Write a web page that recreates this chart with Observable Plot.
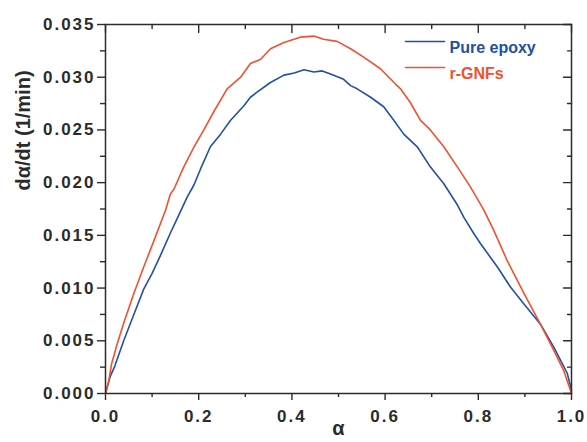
<!DOCTYPE html>
<html>
<head>
<meta charset="utf-8">
<script src="https://cdn.jsdelivr.net/npm/d3@7"></script>
<script src="https://cdn.jsdelivr.net/npm/@observablehq/plot@0.6"></script>
<style>
  html, body { margin: 0; padding: 0; background: #fff; }
</style>
</head>
<body>
<div id="chart"></div>
<script>
// ---- data ----
const seriesNames = ["Pure epoxy", "r-GNFs"];
const seriesColors = ["#2150a6", "#f2502e"];

const epoxyAlpha = [0, 0.01, 0.02, 0.039, 0.06, 0.082, 0.10, 0.118, 0.139, 0.155, 0.175, 0.190, 0.204, 0.225, 0.247, 0.268, 0.297, 0.311, 0.326, 0.354, 0.383, 0.405, 0.426, 0.447, 0.465, 0.483, 0.511, 0.526, 0.540, 0.569, 0.597, 0.619, 0.640, 0.669, 0.697, 0.726, 0.755, 0.769, 0.790, 0.805, 0.841, 0.869, 0.898, 0.933, 0.962, 0.991, 1.0];
const epoxyRate  = [0, 0.0016, 0.0026, 0.0050, 0.0074, 0.0099, 0.0114, 0.0131, 0.0152, 0.0167, 0.0186, 0.0198, 0.0213, 0.0234, 0.0246, 0.0259, 0.0273, 0.0281, 0.0286, 0.0295, 0.0302, 0.0304, 0.0307, 0.0305, 0.0306, 0.0303, 0.0298, 0.0292, 0.0289, 0.0281, 0.0272, 0.0259, 0.0246, 0.0234, 0.0215, 0.0199, 0.0179, 0.0167, 0.0152, 0.0142, 0.0120, 0.0101, 0.0085, 0.0066, 0.0044, 0.0019, 0.0003];

const gnfAlpha = [0, 0.007, 0.013, 0.025, 0.040, 0.061, 0.082, 0.104, 0.129, 0.139, 0.147, 0.168, 0.190, 0.211, 0.232, 0.261, 0.290, 0.311, 0.333, 0.354, 0.383, 0.418, 0.447, 0.468, 0.497, 0.526, 0.554, 0.590, 0.619, 0.633, 0.654, 0.676, 0.697, 0.726, 0.755, 0.783, 0.812, 0.833, 0.862, 0.898, 0.933, 0.962, 0.983, 1.0];
const gnfRate  = [0, 0.0012, 0.0028, 0.0047, 0.0068, 0.0095, 0.0120, 0.0145, 0.0174, 0.0189, 0.0194, 0.0215, 0.0234, 0.0250, 0.0267, 0.0289, 0.0300, 0.0313, 0.0317, 0.0327, 0.0333, 0.0338, 0.0339, 0.0336, 0.0334, 0.0327, 0.0319, 0.0308, 0.0295, 0.0289, 0.0276, 0.0259, 0.0250, 0.0234, 0.0215, 0.0196, 0.0174, 0.0155, 0.0126, 0.0095, 0.0066, 0.0041, 0.0022, 0];

const xMajor = [0, 0.2, 0.4, 0.6, 0.8, 1.0];
const xMinor = [0.1, 0.3, 0.5, 0.7, 0.9];
const yMajor = [0, 0.005, 0.010, 0.015, 0.020, 0.025, 0.030, 0.035];
const yMinor = [0.0025, 0.0075, 0.0125, 0.0175, 0.0225, 0.0275, 0.0325];

const xLabel = "α";
const yLabel = "dα/dt (1/min)";

// ---- build table ----
const rows = [
  ...epoxyAlpha.map((a, i) => ({a, v: epoxyRate[i], s: seriesNames[0]})),
  ...gnfAlpha.map((a, i) => ({a, v: gnfRate[i], s: seriesNames[1]}))
];

const ink = "#2b2b2b";
const lineShape = {draw(context, l) { context.moveTo(0, 0); context.lineTo(0, -l); }};

const plot = Plot.plot({
  width: 587,
  height: 442,
  marginLeft: 105,
  marginRight: 16,
  marginTop: 24,
  marginBottom: 49,
  style: {fontFamily: "'Liberation Sans', Arial, Helvetica, sans-serif", fontWeight: "bold", color: ink, background: "#fff"},
  x: {domain: [0, 1], axis: null},
  y: {domain: [0, 0.035], axis: null},
  color: {domain: seriesNames, range: seriesColors},
  marks: [
    // bottom axis
    Plot.axisX(xMajor, {tickSize: 7, tickPadding: 9, tickFormat: d3.format(".1f"), fontSize: 17, label: null, strokeWidth: 1.4}),
    Plot.axisX(xMinor, {tickSize: 4, tickFormat: () => "", label: null, strokeWidth: 1.4}),
    // left axis
    Plot.axisY(yMajor, {tickSize: 8, tickPadding: 2, tickFormat: d3.format(".3f"), fontSize: 17, label: null, strokeWidth: 1.4}),
    Plot.axisY(yMinor, {tickSize: 5, tickFormat: () => "", label: null, strokeWidth: 1.4}),
    // top mirrored inward ticks
    Plot.vectorX(xMajor, {x: d => d, frameAnchor: "top", rotate: 180, length: 8, anchor: "start", shape: lineShape, stroke: ink, strokeWidth: 1.4}),
    Plot.vectorX(xMinor, {x: d => d, frameAnchor: "top", rotate: 180, length: 4, anchor: "start", shape: lineShape, stroke: ink, strokeWidth: 1.4}),
    // right mirrored inward ticks
    Plot.vectorY(yMajor, {y: d => d, frameAnchor: "right", rotate: -90, length: 8, anchor: "start", shape: lineShape, stroke: ink, strokeWidth: 1.4}),
    Plot.vectorY(yMinor, {y: d => d, frameAnchor: "right", rotate: -90, length: 4, anchor: "start", shape: lineShape, stroke: ink, strokeWidth: 1.4}),
    // curves
    Plot.line(rows, {x: "a", y: "v", z: "s", stroke: "s", strokeWidth: 1.6}),
    Plot.frame({stroke: ink, strokeWidth: 1.5}),
    // axis labels
    Plot.text([yLabel], {text: d => d, frameAnchor: "left", dx: -82, dy: -18.5, rotate: -90, fontSize: 20, fontWeight: "bold", fill: ink}),
    Plot.text([xLabel], {text: d => d, frameAnchor: "bottom", dy: 41, fontSize: 20, fontWeight: "bold", fill: ink}),
    // legend
    ...seriesNames.map((s, i) => Plot.vector([s], {frameAnchor: "top-left", dx: 300, dy: 17 + 26 * i, rotate: 90, length: 39, anchor: "start", shape: lineShape, stroke: seriesColors[i], strokeWidth: 1.6})),
    ...seriesNames.map((s, i) => Plot.text([s], {text: d => d, frameAnchor: "top-left", dx: 344, dy: 17 + 26 * i, textAnchor: "start", fill: seriesColors[i], fontSize: 16, fontWeight: "bold"}))
  ]
});

d3.select(plot).selectAll('g[aria-label$="tick label"]').attr("letter-spacing", "2px");
document.getElementById("chart").appendChild(plot);
</script>
</body>
</html>
